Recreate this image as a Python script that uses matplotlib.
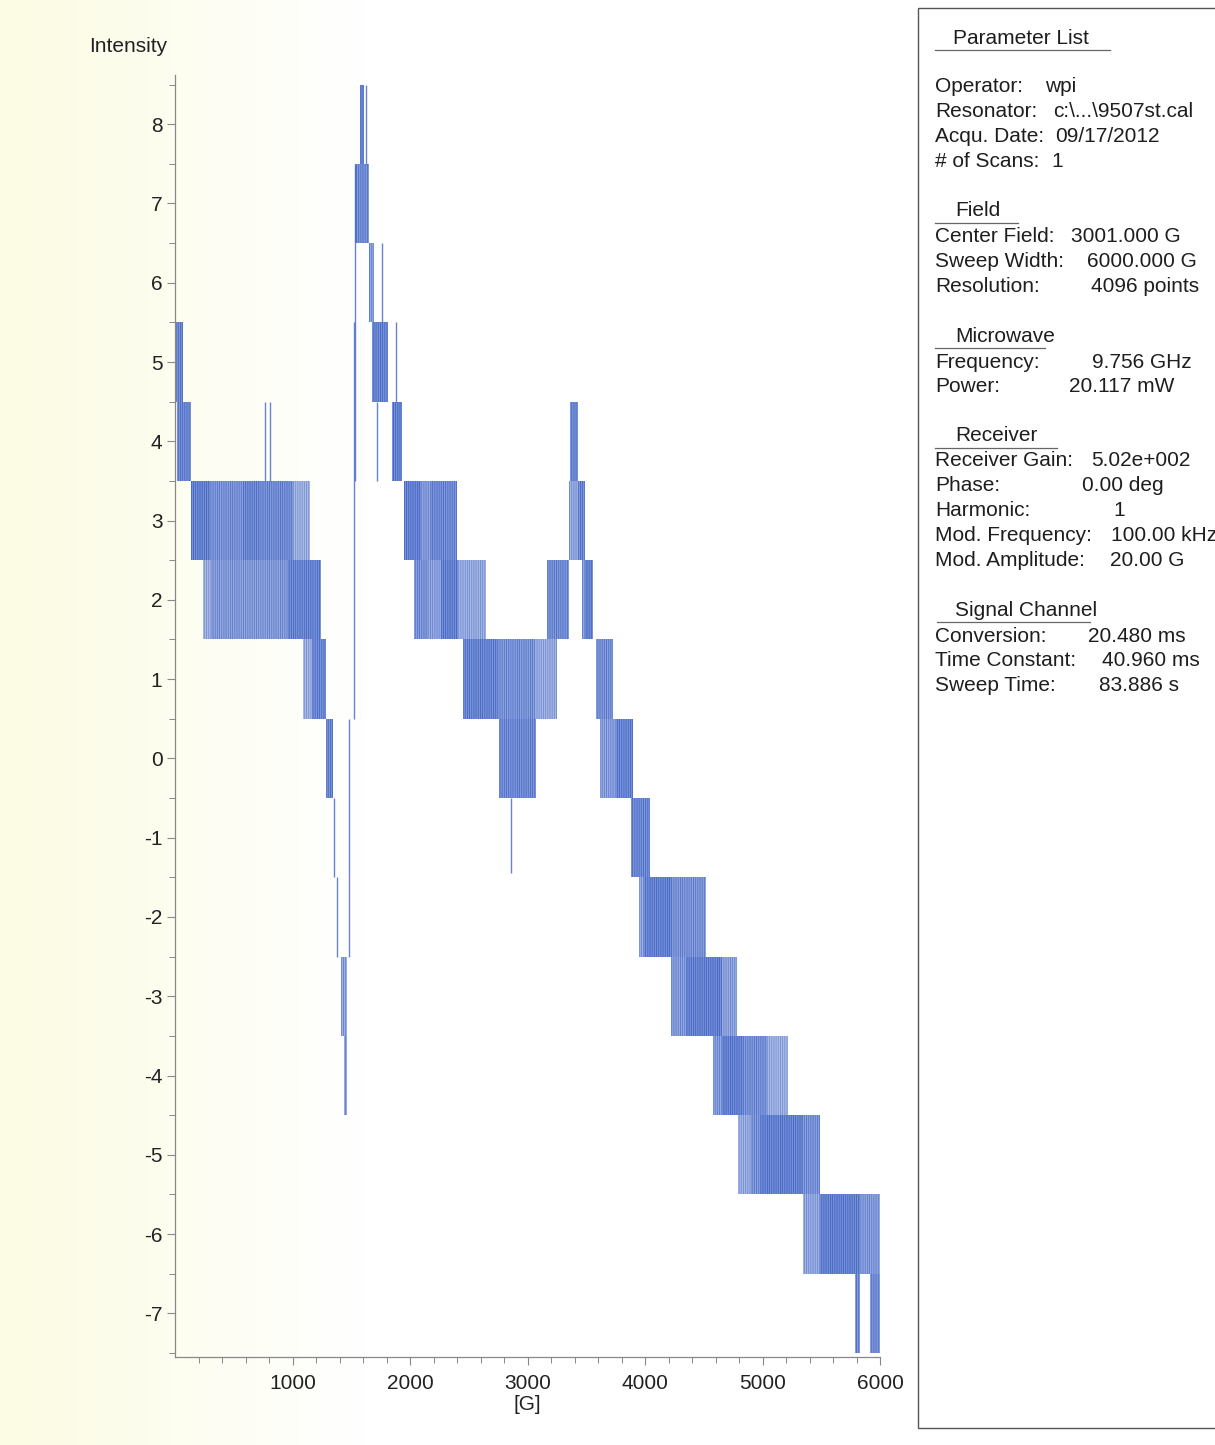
import numpy as np
import matplotlib.pyplot as plt
from matplotlib.patches import Rectangle
from matplotlib.colors import LinearSegmentedColormap

plt.rcParams['font.family'] = ['Liberation Sans', 'DejaVu Sans']
plt.rcParams['axes.unicode_minus'] = False
plt.rcParams['hatch.linewidth'] = 0.8

# --- spectrum ---
# each band: the digitised trace flickers between two adjacent levels
# (level_low .. level_low + 1) over a field range; shade = how dense the flicker is
band_start = [0, 15, 140, 300, 580, 720, 1000, 235, 310, 960, 1090, 1170, 1285,
              1410, 1435,
              1571, 1536, 1655, 1680, 1850,
              1945, 2090, 2175, 2030, 2150, 2260, 2410, 2455, 2750, 3060, 2760,
              3170, 3350, 3430, 3360, 3465, 3490, 3580, 3620, 3750, 3880,
              3950, 3990, 4230, 4220, 4345, 4655, 4580, 4655, 4830, 5040,
              4795, 4905, 4980, 5345, 5345, 5490, 5830, 5790, 5915]
band_end = [65, 140, 300, 580, 720, 1000, 1150, 310, 960, 1240, 1170, 1285, 1345,
            1467, 1467,
            1605, 1655, 1690, 1816, 1935,
            2090, 2175, 2403, 2150, 2260, 2410, 2650, 2750, 3060, 3250, 3075,
            3350, 3430, 3490, 3430, 3490, 3560, 3730, 3750, 3900, 4045,
            3990, 4230, 4520, 4345, 4655, 4780, 4655, 4830, 5040, 5220,
            4905, 4980, 5345, 5490, 5490, 5830, 6000, 5830, 6000]
band_low = [4.5, 3.5, 2.5, 2.5, 2.5, 2.5, 2.5, 1.5, 1.5, 1.5, 0.5, 0.5, -0.5,
            -3.5, -4.5,
            7.5, 6.5, 5.5, 4.5, 3.5,
            2.5, 2.5, 2.5, 1.5, 1.5, 1.5, 1.5, 0.5, 0.5, 0.5, -0.5,
            1.5, 2.5, 2.5, 3.5, 1.5, 1.5, 0.5, -0.5, -0.5, -1.5,
            -2.5, -2.5, -2.5, -3.5, -3.5, -3.5, -4.5, -4.5, -4.5, -4.5,
            -5.5, -5.5, -5.5, -5.5, -6.5, -6.5, -6.5, -7.5, -7.5]
band_shade = [0.9, 0.9, 1.0, 0.7, 0.9, 0.8, 0.35, 0.35, 0.6, 0.95, 0.35, 0.9, 0.9,
              0.5, 0.6,
              1.0, 0.8, 0.6, 0.95, 1.0,
              1.0, 0.6, 0.85, 0.7, 0.5, 1.0, 0.4, 0.95, 0.7, 0.4, 0.85,
              0.8, 0.45, 0.9, 0.9, 0.6, 1.0, 0.75, 0.55, 0.95, 0.9,
              0.5, 1.0, 0.7, 0.6, 1.0, 0.5, 0.6, 1.0, 0.75, 0.35,
              0.4, 0.7, 1.0, 0.7, 0.45, 1.0, 0.6, 0.8, 0.8]

# single excursions drawn as lone lines (field, from, to)
spike_field = [765, 810, 1357, 1382, 1485, 1520, 1536, 1629, 1715, 1765, 1885, 2860]
spike_lo = [3.5, 3.5, -1.5, -2.5, -2.5, 0.5, 3.5, 7.5, 3.5, 5.5, 4.5, -1.45]
spike_hi = [4.5, 4.5, -0.5, -1.5, 0.5, 5.5, 7.5, 8.5, 4.5, 6.5, 5.5, -0.5]

y_ticks = list(range(-7, 9))
x_ticks = [1000, 2000, 3000, 4000, 5000, 6000]

# --- parameter list ---
sections = ["Parameter List", "Field", "Microwave", "Receiver", "Signal Channel"]
param_rows = [
    [("Operator:", "wpi"), ("Resonator:", "c:\\...\\9507st.cal"),
     ("Acqu. Date:", "09/17/2012"), ("# of Scans:", "1")],
    [("Center Field:", "3001.000 G"), ("Sweep Width:", "6000.000 G"),
     ("Resolution:", "4096 points")],
    [("Frequency:", "9.756 GHz"), ("Power:", "20.117 mW")],
    [("Receiver Gain:", "5.02e+002"), ("Phase:", "0.00 deg"), ("Harmonic:", "1"),
     ("Mod. Frequency:", "100.00 kHz"), ("Mod. Amplitude:", "20.00 G")],
    [("Conversion:", "20.480 ms"), ("Time Constant:", "40.960 ms"),
     ("Sweep Time:", "83.886 s")],
]
# pixel x where each value starts (printer layout)
value_x = [
    [1045, 1053, 1055, 1051],
    [1071, 1087, 1091],
    [1092, 1069],
    [1091, 1082, 1113, 1111, 1110],
    [1088, 1102, 1099],
]

W, H = 1215, 1445
fig = plt.figure(figsize=(W / 100, H / 100), dpi=100)
fig.patch.set_facecolor('white')

# faint yellow cast of the scanned page on the left edge
bg = fig.add_axes([0, 0, 1, 1], zorder=-5)
grad = np.linspace(0, 1, 256)[None, :]
paper = LinearSegmentedColormap.from_list(
    'paper', [(0, '#fcfbe3'), (0.12, '#fdfdee'), (0.3, '#ffffff'), (1, '#ffffff')])
bg.imshow(grad, aspect='auto', cmap=paper, extent=[0, 1, 0, 1])
bg.set_axis_off()


def fx(px):
    return px / W


def fy(py):
    return 1 - py / H


ax = fig.add_axes([fx(175), fy(1357), (880 - 175) / W, (1357 - 75) / H])
ax.set_facecolor('none')

dark = '#4265c6'
light = '#c8d5f2'
for s, e, lo, sh in zip(band_start, band_end, band_low, band_shade):
    ax.bar(s, 1.0, width=e - s, bottom=lo, align='edge', color=light,
           alpha=0.15 + 0.4 * sh, linewidth=0)
    # two hatch pitches overlaid give an uneven comb of trace lines
    ax.bar(s, 1.0, width=e - s, bottom=lo, align='edge', facecolor='none',
           edgecolor=dark, hatch='|' * 9, linewidth=0, alpha=0.3 + 0.6 * sh)
    ax.bar(s, 1.0, width=e - s, bottom=lo, align='edge', facecolor='none',
           edgecolor=dark, hatch='|' * 14, linewidth=0, alpha=0.15 + 0.45 * sh)

ax.vlines(spike_field, spike_lo, spike_hi, colors=dark, linewidth=1.0, alpha=0.8)

ax.set_xlim(0, 6000)
ax.set_ylim(-7.55, 8.62)
ax.set_xticks(x_ticks)
ax.set_xticks(np.arange(200, 6000, 200), minor=True)
ax.set_yticks(y_ticks)
ax.set_yticks(np.arange(-7.5, 8.6, 1.0), minor=True)
for sp in ['top', 'right']:
    ax.spines[sp].set_visible(False)
for sp in ['left', 'bottom']:
    ax.spines[sp].set_color('#888888')
    ax.spines[sp].set_linewidth(0.9)
ax.tick_params(which='major', length=6, width=0.8, color='#888888',
               labelsize=15, labelcolor='#222222', pad=3)
ax.tick_params(which='minor', length=4, width=0.7, color='#888888')
ax.tick_params(axis='x', which='major', pad=6)

fig.text(fx(128), fy(46), "Intensity", fontsize=15, color='#222222',
         ha='center', va='center')
fig.text(fx(527), fy(1405), "[G]", fontsize=15, color='#222222',
         ha='center', va='center')

# --- parameter panel ---
fig.add_artist(Rectangle((fx(918), fy(1428)), 1.0, fy(8) - fy(1428),
                         transform=fig.transFigure, facecolor='white',
                         edgecolor='#555555', linewidth=1.0, zorder=1))

head_y = [38, 211, 336, 436, 610]
head_x = [953, 955, 955, 955, 955]
rule_x = [(935, 1110), (935, 1018), (935, 1045), (935, 1057), (937, 1090)]
row_start = [87, 237, 362, 461, 636]
row_step = 24.8
tc = '#1e1e1e'
for i, name in enumerate(sections):
    fig.text(fx(head_x[i]), fy(head_y[i]), name, fontsize=15, color=tc,
             ha='left', va='center', zorder=3)
    x0, x1 = rule_x[i]
    fig.add_artist(plt.Line2D([fx(x0), fx(x1)], [fy(head_y[i] + 12)] * 2,
                              transform=fig.transFigure, color='#666666',
                              linewidth=0.9, zorder=3))
    for j, (lab, val) in enumerate(param_rows[i]):
        y = row_start[i] + j * row_step
        fig.text(fx(935), fy(y), lab, fontsize=15, color=tc,
                 ha='left', va='center', zorder=3)
        fig.text(fx(value_x[i][j]), fy(y), val, fontsize=15, color=tc,
                 ha='left', va='center', zorder=3)

fig.savefig('out.png', dpi=100)
